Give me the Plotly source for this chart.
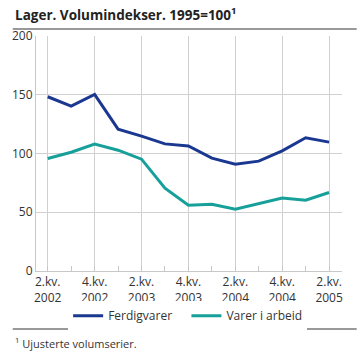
import plotly.graph_objects as go

quarters = list(range(13))
tick_pos = [0, 2, 4, 6, 8, 10, 12]
tick_labels = ["2.kv.<br>2002", "4.kv.<br>2002", "2.kv.<br>2003", "4.kv.<br>2003",
               "2.kv.<br>2004", "4.kv.<br>2004", "2.kv.<br>2005"]
ferdigvarer = [148.3, 140.3, 150.3, 120.7, 114.8, 108.2, 106.4, 96.0, 90.9, 93.5, 102.3, 113.4, 109.7]
varer_i_arbeid = [95.7, 101.1, 108.0, 102.8, 95.2, 70.5, 56.0, 56.8, 52.6, 57.1, 62.2, 60.2, 66.8]

FONT = "Open Sans"
fig = go.Figure()
fig.add_trace(go.Scatter(x=quarters, y=ferdigvarer, mode="lines", name="Ferdigvarer&nbsp;&nbsp;&nbsp;",
                         line=dict(color="#1b3891", width=3)))
fig.add_trace(go.Scatter(x=quarters, y=varer_i_arbeid, mode="lines", name="Varer i arbeid",
                         line=dict(color="#17a09a", width=3)))

fig.update_layout(
    width=359, height=352,
    margin=dict(l=27, r=17, t=36, b=81),
    paper_bgcolor="white", plot_bgcolor="white",
    font=dict(family=FONT, size=12, color="#333333"),
    showlegend=True,
    legend=dict(orientation="h", x=0.105, xanchor="left", y=-0.19, yanchor="middle",
                font=dict(size=12), itemwidth=30, tracegroupgap=0),
    annotations=[
        dict(text="<b>Lager. Volumindekser. 1995=100<sup>1</sup></b>", xref="paper", yref="paper",
             x=-0.076, y=1.095, xanchor="left", yanchor="middle", showarrow=False,
             font=dict(size=13.5, color="#222222")),
        dict(text="<sup>1</sup> Ujusterte volumserier.", xref="paper", yref="paper",
             x=-0.076, y=-0.308, xanchor="left", yanchor="middle", showarrow=False,
             font=dict(size=11, color="#333333")),
    ],
    shapes=[
        dict(type="line", xref="paper", yref="paper", x0=-0.076, x1=1.048, y0=1.03, y1=1.03,
             line=dict(color="#999999", width=2)),
        dict(type="line", xref="paper", yref="paper", x0=-0.076, x1=1.048, y0=-0.247, y1=-0.247,
             line=dict(color="#999999", width=2)),
    ],
)
fig.update_xaxes(range=[-0.5, 12.55], tickmode="array", tickvals=tick_pos, ticktext=tick_labels,
                 showgrid=True, gridcolor="#d0d0d0", gridwidth=1,
                 showline=True, linecolor="#c8c8c8", linewidth=1,
                 ticks="inside", ticklen=5, tickcolor="#c8c8c8",
                 minor=dict(dtick=1, tick0=0, ticks="inside", ticklen=5, tickcolor="#c8c8c8", showgrid=False),
                 zeroline=False, fixedrange=True)
fig.update_yaxes(range=[0, 200], tickvals=[0, 50, 100, 150, 200],
                 showgrid=True, gridcolor="#d0d0d0", gridwidth=1,
                 showline=True, linecolor="#c8c8c8", linewidth=1,
                 ticks="", zeroline=False, fixedrange=True)

fig.write_html("out.html")
